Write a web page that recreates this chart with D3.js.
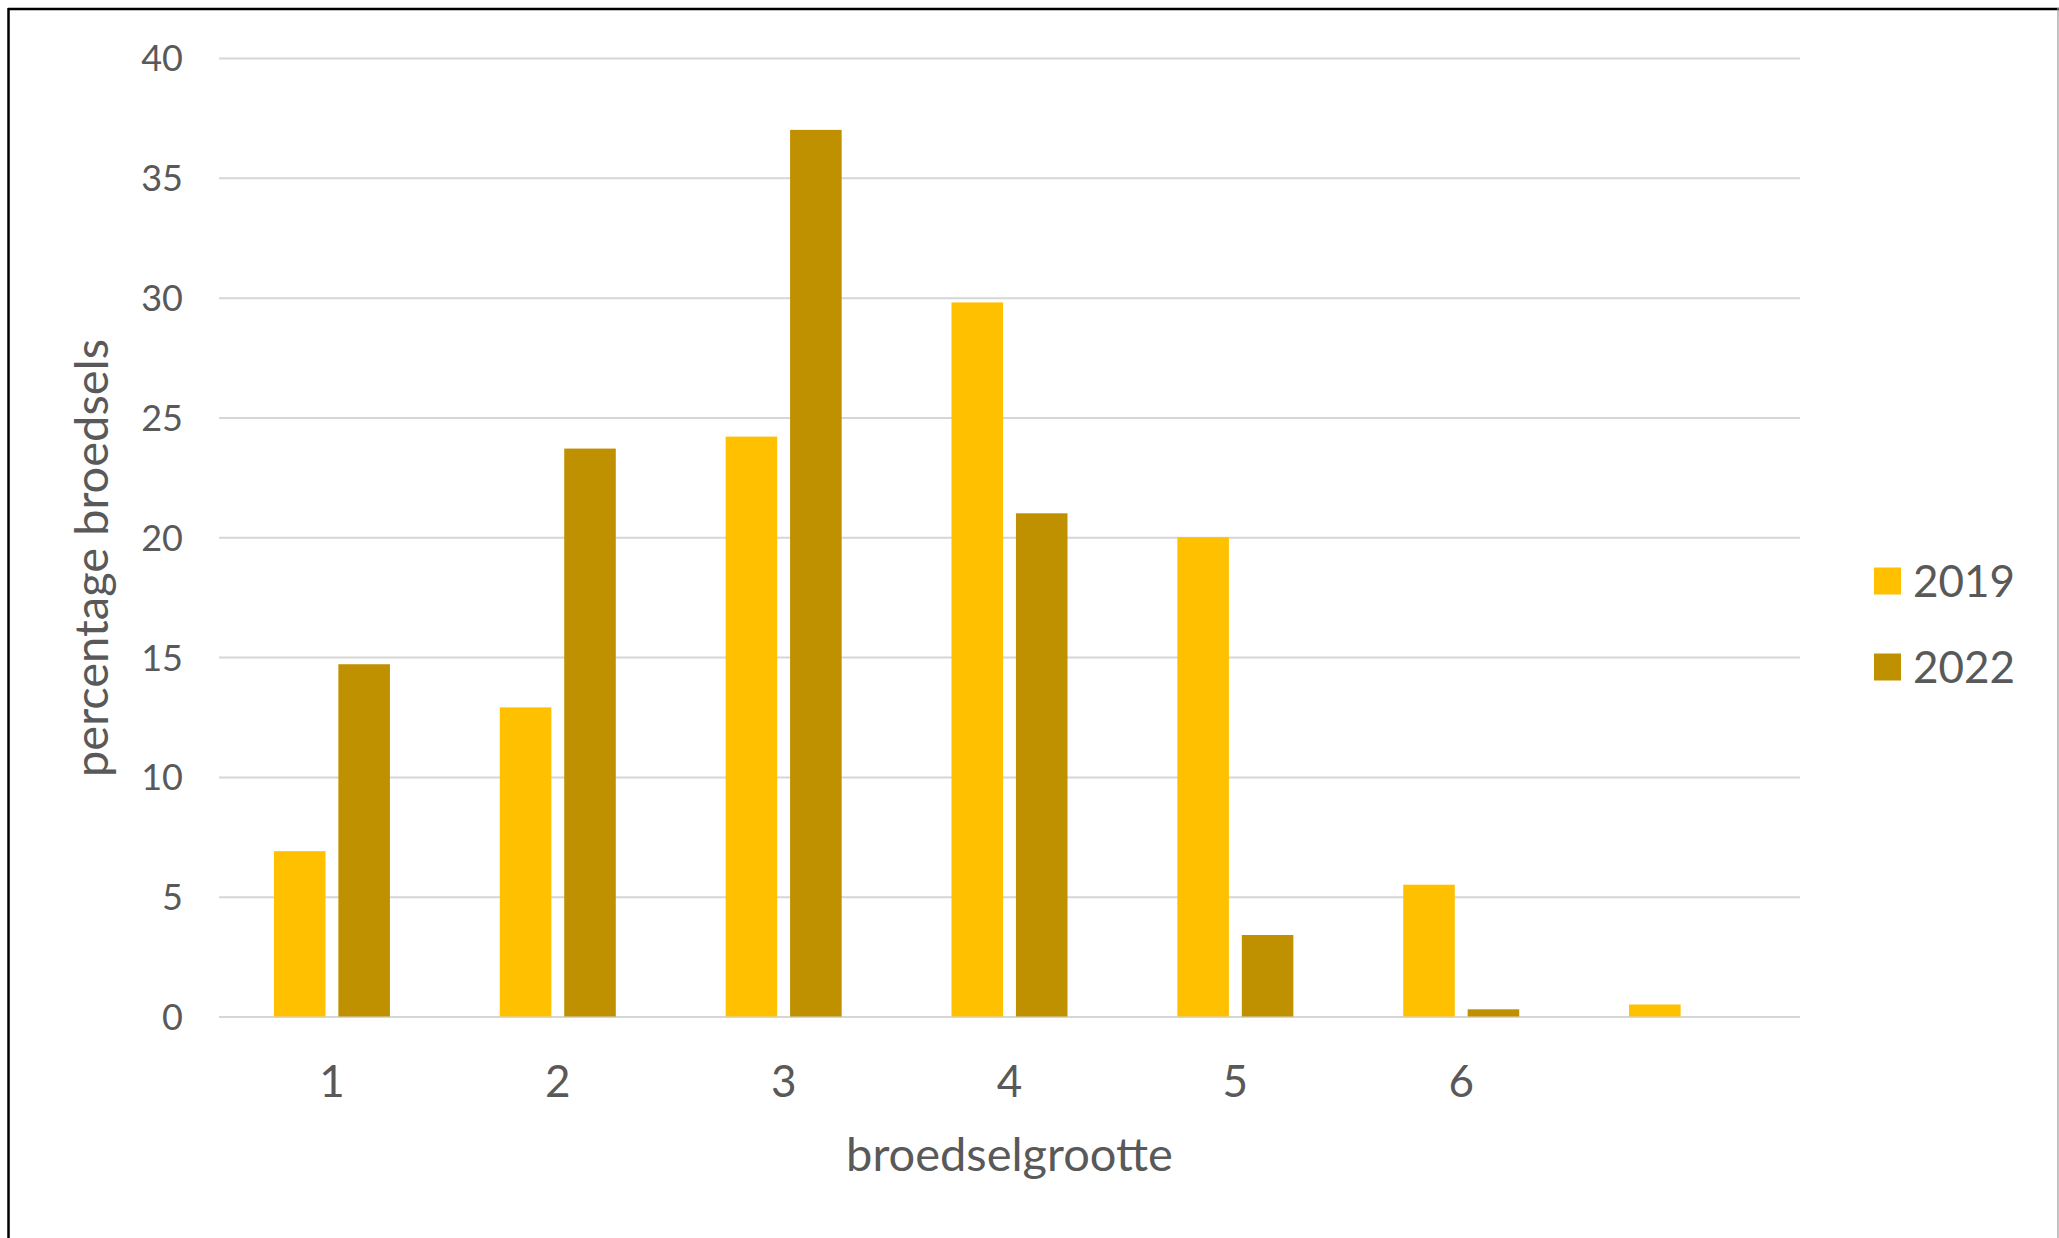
<!DOCTYPE html>
<html>
<head>
<meta charset="utf-8">
<script src="https://cdn.jsdelivr.net/npm/d3@7"></script>
<style>
  html, body { margin: 0; padding: 0; background: #fff; }
  svg { display: block; }
  text { font-family: Lato, "Open Sans", sans-serif; fill: #595959; }
</style>
</head>
<body>
<svg id="chart" width="2059" height="1238"></svg>
<script>
// ---- data ----
const categories = ["1", "2", "3", "4", "5", "6", "7"];
const tickLabels = ["1", "2", "3", "4", "5", "6", ""];
const seriesNames = ["2019", "2022"];
const values2019 = [6.9, 12.9, 24.2, 29.8, 20.0, 5.5, 0.5];
const values2022 = [14.7, 23.7, 37.0, 21.0, 3.4, 0.3, 0];
const yTicks = [0, 5, 10, 15, 20, 25, 30, 35, 40];
const colors = ["#FFC000", "#BF9000"];
const xTitle = "broedselgrootte";
const yTitle = "percentage broedsels";

// ---- layout ----
const W = 2059, H = 1238;
const plot = { left: 219, right: 1800, top: 58, bottom: 1016.5 };

const svg = d3.select("#chart");
svg.append("rect").attr("width", W).attr("height", H).attr("fill", "#fff");

// frame
svg.append("line").attr("x1", 8).attr("x2", W).attr("y1", 9).attr("y2", 9)
  .attr("stroke", "#000").attr("stroke-width", 2.5);
svg.append("line").attr("x1", 8.5).attr("x2", 8.5).attr("y1", 8).attr("y2", H)
  .attr("stroke", "#000").attr("stroke-width", 2.5);
svg.append("line").attr("x1", 2058).attr("x2", 2058).attr("y1", 8).attr("y2", H)
  .attr("stroke", "#9a9a9a").attr("stroke-width", 1.2);

const x0 = d3.scaleBand().domain(categories).range([plot.left, plot.right]).padding(0);
const bw = x0.bandwidth();
const x1 = d3.scaleBand().domain(seriesNames)
  .range([bw * 0.2432, bw * 0.7568]).paddingInner(0.2).paddingOuter(0);
const y = d3.scaleLinear().domain([0, 40]).range([plot.bottom, plot.top]);

// y axis with gridlines
const yAxis = d3.axisLeft(y).tickValues(yTicks).tickSize(-(plot.right - plot.left)).tickPadding(36);
const gy = svg.append("g").attr("transform", `translate(${plot.left},0)`).call(yAxis);
gy.select(".domain").remove();
gy.selectAll(".tick line").attr("stroke", "#D6D6D6").attr("stroke-width", 2);
gy.selectAll(".tick text").attr("font-size", 36).attr("dy", "0.36em").style("fill", "#595959");

// bars
const seriesData = [values2019, values2022];
seriesNames.forEach((s, si) => {
  svg.append("g").selectAll("rect")
    .data(categories.map((c, i) => ({ c, v: seriesData[si][i] })))
    .join("rect")
    .attr("x", d => x0(d.c) + x1(s))
    .attr("width", x1.bandwidth())
    .attr("y", d => y(d.v))
    .attr("height", d => y(0) - y(d.v))
    .attr("fill", colors[si]);
});

// x axis
const xAxis = d3.axisBottom(x0).tickSize(0).tickPadding(0)
  .tickFormat((d, i) => tickLabels[i]);
const gx = svg.append("g").attr("transform", `translate(0,${plot.bottom})`).call(xAxis);
gx.select(".domain").remove();
gx.selectAll(".tick text").attr("font-size", 44).attr("y", 80.5).attr("dy", 0).style("fill", "#595959");

// axis titles
svg.append("text").attr("x", (plot.left + plot.right) / 2).attr("y", 1171)
  .attr("text-anchor", "middle").attr("font-size", 47).text(xTitle);
svg.append("text").attr("transform", `translate(108,558) rotate(-90)`)
  .attr("text-anchor", "middle").attr("font-size", 47).text(yTitle);

// legend
const legendY = [581, 667];
seriesNames.forEach((s, i) => {
  svg.append("rect").attr("x", 1874).attr("y", legendY[i] - 13.5)
    .attr("width", 27).attr("height", 27).attr("fill", colors[i]);
  svg.append("text").attr("x", 1913).attr("y", legendY[i] + 16)
    .attr("font-size", 44).text(s);
});
</script>
</body>
</html>
